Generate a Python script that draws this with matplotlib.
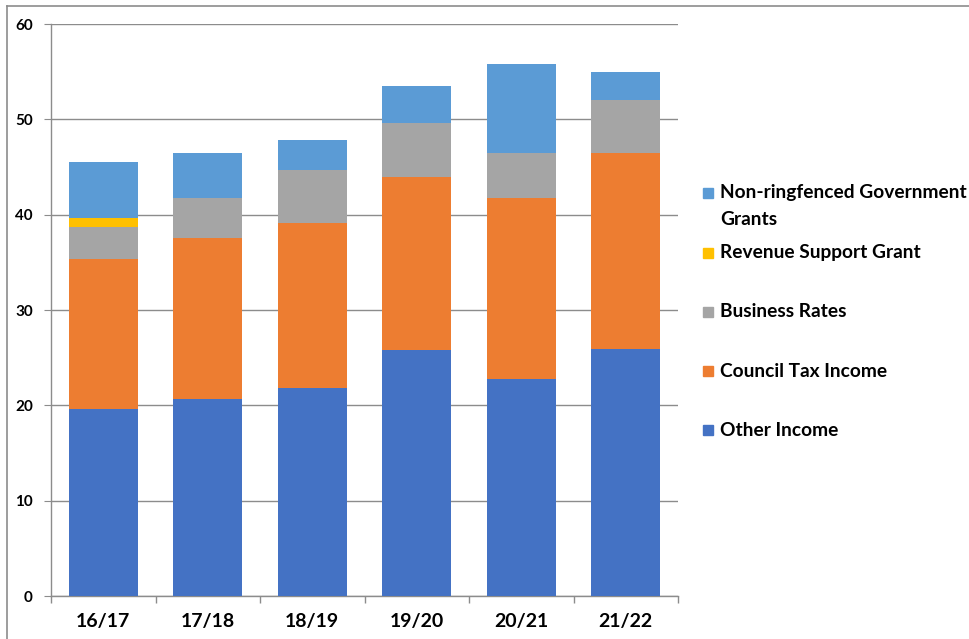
import matplotlib.pyplot as plt
from matplotlib.lines import Line2D
from matplotlib.patches import Rectangle
import numpy as np

# Income by year (stacked)
years = ["16/17", "17/18", "18/19", "19/20", "20/21", "21/22"]
other_income = [19.6, 20.65, 21.8, 25.8, 22.75, 25.95]
council_tax = [15.75, 16.9, 17.3, 18.15, 19.0, 20.55]
business_rates = [3.35, 4.2, 5.6, 5.65, 4.75, 5.5]
revenue_support = [0.95, 0, 0, 0, 0, 0]
non_ringfenced = [5.85, 4.75, 3.15, 3.9, 9.3, 3.0]

series = [
    ("Other Income", other_income, "#4472C4"),
    ("Council Tax Income", council_tax, "#ED7D31"),
    ("Business Rates", business_rates, "#A5A5A5"),
    ("Revenue Support Grant", revenue_support, "#FFC000"),
    ("Non-ringfenced Government\nGrants", non_ringfenced, "#5B9BD5"),
]

plt.rcParams['font.family'] = ['Lato', 'DejaVu Sans']

W, H = 969, 639
fig = plt.figure(figsize=(W / 100, H / 100), dpi=100)
ax = fig.add_axes([51 / W, 43 / H, 627 / W, 572 / H])

x = np.arange(len(years))
bottom = np.zeros(len(years))
for name, vals, col in series:
    ax.bar(x, vals, bottom=bottom, width=0.66, color=col, label=name, zorder=3)
    bottom += np.array(vals)

ax.set_xlim(-0.5, len(years) - 0.5)
ax.set_ylim(0, 60)
ax.set_yticks(range(0, 61, 10))
ax.yaxis.grid(True, color="#8c8c8c", linewidth=1, zorder=0)
ax.set_xticks(x)
ax.set_xticklabels(years, fontsize=14, fontweight="bold")
ax.set_xticks(np.arange(-0.5, len(years)), minor=True)
ax.tick_params(axis="x", which="major", length=0, pad=12)
ax.tick_params(axis="x", which="minor", length=5, color="#8c8c8c", width=1)
ax.tick_params(axis="y", length=5, color="#8c8c8c", labelsize=11, pad=8)
for lbl in ax.get_yticklabels():
    lbl.set_fontweight("bold")

for s in ["top", "right"]:
    ax.spines[s].set_visible(False)
for s in ["left", "bottom"]:
    ax.spines[s].set_color("#8c8c8c")
    ax.spines[s].set_linewidth(1)

# legend drawn by hand to match the uneven Excel spacing (top entry first)
leg_y = [193, 253, 312, 371, 430]
for (name, vals, col), yy in zip(series[::-1], leg_y):
    fig.patches.append(Rectangle((703 / W, 1 - (yy + 5) / H), 10 / W, 10 / H,
                                 transform=fig.transFigure, color=col, figure=fig))
    if "\n" in name:
        fig.text(720 / W, 1 - (yy - 9) / H, name, va="top", ha="left",
                 fontsize=13.8, fontweight="bold", linespacing=1.7)
    else:
        fig.text(720 / W, 1 - yy / H, name, va="center", ha="left",
                 fontsize=13.8, fontweight="bold")

# outer chart border (top and left)
fig.add_artist(Line2D([7 / W, 1], [1 - 6 / H, 1 - 6 / H], color="#8c8c8c", linewidth=1.2))
fig.add_artist(Line2D([7 / W, 7 / W], [0, 1 - 6 / H], color="#8c8c8c", linewidth=1.2))

fig.savefig("out.png", dpi=100)
